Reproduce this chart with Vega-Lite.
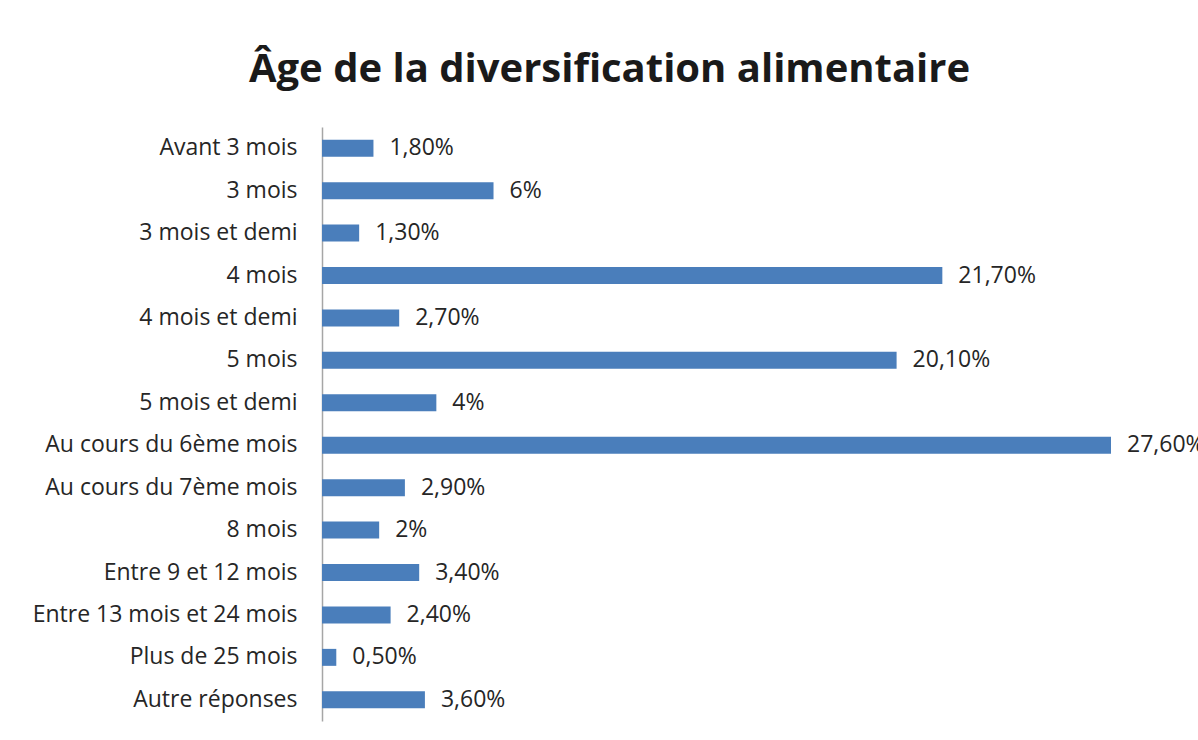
{
  "$schema": "https://vega.github.io/schema/vega-lite/v6.json",
  "autosize": "none",
  "width": 789,
  "height": 594,
  "padding": {"left": 322, "top": 127, "right": 87, "bottom": 19},
  "background": "white",
  "title": {
    "text": "Âge de la diversification alimentaire",
    "font": "Open Sans",
    "fontSize": 40,
    "fontWeight": "bold",
    "color": "#1a1a1a",
    "anchor": "middle",
    "dx": -107,
    "offset": 37
  },
  "data": {
    "values": [
      {"categorie": "Avant 3 mois", "pct": 1.8, "label": "1,80%"},
      {"categorie": "3 mois", "pct": 6.0, "label": "6%"},
      {"categorie": "3 mois et demi", "pct": 1.3, "label": "1,30%"},
      {"categorie": "4 mois", "pct": 21.7, "label": "21,70%"},
      {"categorie": "4 mois et demi", "pct": 2.7, "label": "2,70%"},
      {"categorie": "5 mois", "pct": 20.1, "label": "20,10%"},
      {"categorie": "5 mois et demi", "pct": 4.0, "label": "4%"},
      {"categorie": "Au cours du 6ème mois", "pct": 27.6, "label": "27,60%"},
      {"categorie": "Au cours du 7ème mois", "pct": 2.9, "label": "2,90%"},
      {"categorie": "8 mois", "pct": 2.0, "label": "2%"},
      {"categorie": "Entre 9 et 12 mois", "pct": 3.4, "label": "3,40%"},
      {"categorie": "Entre 13 mois et 24 mois", "pct": 2.4, "label": "2,40%"},
      {"categorie": "Plus de 25 mois", "pct": 0.5, "label": "0,50%"},
      {"categorie": "Autre réponses", "pct": 3.6, "label": "3,60%"}
    ]
  },
  "encoding": {
    "y": {
      "field": "categorie",
      "type": "nominal",
      "sort": null,
      "scale": {"paddingInner": 0.6, "paddingOuter": 0.3},
      "axis": {
        "title": null,
        "ticks": false,
        "domainColor": "#a6a6a6",
        "domainWidth": 1.5,
        "labelFont": "Open Sans",
        "labelFontSize": 23,
        "labelColor": "#262626",
        "labelPadding": 25,
        "labelLimit": 400
      }
    },
    "x": {
      "field": "pct",
      "type": "quantitative",
      "scale": {"domain": [0, 27.6], "nice": false},
      "axis": null
    }
  },
  "layer": [
    {"mark": {"type": "bar", "color": "#4a7ebb"}},
    {
      "mark": {"type": "text", "align": "left", "dx": 16, "font": "Open Sans", "fontSize": 23, "color": "#262626"},
      "encoding": {"text": {"field": "label"}}
    }
  ],
  "config": {"view": {"stroke": null}}
}
